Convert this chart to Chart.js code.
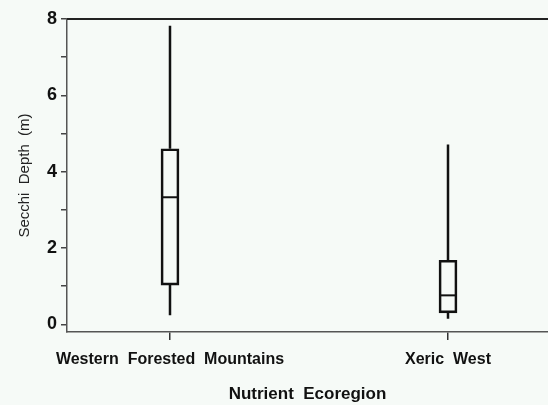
<!DOCTYPE html>
<html>
<head>
<meta charset="utf-8">
<script src="https://cdn.jsdelivr.net/npm/chart.js@4"></script>
<style>
  html, body { margin: 0; padding: 0; background: #f6faf7; }
  #wrap { width: 548px; height: 405px; }
</style>
</head>
<body>
<div id="wrap"><canvas id="c" width="548" height="405"></canvas></div>
<script>
// Box plot of Secchi depth by nutrient ecoregion
const categories = ['Western  Forested  Mountains', 'Xeric  West'];
const whiskerLow = [0.24, 0.15];
const q1 = [1.03, 0.30];
const median = [3.33, 0.76];
const q3 = [4.60, 1.68];
const whiskerHigh = [7.82, 4.71];
const yTicks = [0, 1, 2, 3, 4, 5, 6, 7, 8];

const boxData = categories.map((c, i) => ({ x: i, y: [q1[i], q3[i]] }));

// whiskers, medians and top frame line
const boxExtras = {
    id: 'boxExtras',
    afterDatasetsDraw(chart) {
        const ctx = chart.ctx;
        const xs = chart.scales.x;
        const ys = chart.scales.y;
        const area = chart.chartArea;
        ctx.save();
        ctx.strokeStyle = '#111';
        categories.forEach((c, i) => {
            const x = xs.getPixelForValue(i);
            ctx.lineWidth = 2.5;
            ctx.beginPath();
            ctx.moveTo(x, ys.getPixelForValue(q3[i]));
            ctx.lineTo(x, ys.getPixelForValue(whiskerHigh[i]));
            ctx.moveTo(x, ys.getPixelForValue(q1[i]));
            ctx.lineTo(x, ys.getPixelForValue(whiskerLow[i]));
            ctx.stroke();
            const y = ys.getPixelForValue(median[i]);
            ctx.lineWidth = 2;
            ctx.beginPath();
            ctx.moveTo(x - 9, y);
            ctx.lineTo(x + 9, y);
            ctx.stroke();
        });
        // top frame line
        ctx.strokeStyle = '#222';
        ctx.lineWidth = 2;
        ctx.beginPath();
        ctx.moveTo(area.left, area.top);
        ctx.lineTo(area.right, area.top);
        ctx.stroke();
        ctx.restore();
    }
};

new Chart(document.getElementById('c'), {
    type: 'bar',
    data: {
        datasets: [{
            data: boxData,
            backgroundColor: 'rgba(0,0,0,0)',
            borderColor: '#111',
            borderWidth: 2,
            borderSkipped: false,
            barThickness: 18
        }]
    },
    options: {
        responsive: false,
        animation: false,
        devicePixelRatio: 1,
        layout: { padding: { top: 19, right: 0, left: 0, bottom: 0 } },
        plugins: { legend: { display: false }, tooltip: { enabled: false } },
        scales: {
            x: {
                type: 'linear',
                offset: false,
                min: -0.3705,
                max: 1.3597,
                afterBuildTicks: s => { s.ticks = categories.map((c, i) => ({ value: i })); },
                afterFit: s => { s.height = 73; },
                ticks: {
                    color: '#111',
                    font: { family: 'Liberation Sans', size: 16, weight: 'bold' },
                    padding: 10,
                    maxRotation: 0,
                    autoSkip: false,
                    callback: v => categories[v]
                },
                grid: { offset: false, drawOnChartArea: false, tickLength: 8, color: '#333', lineWidth: 1.5 },
                border: { display: true, color: '#555', width: 1.5 },
                title: {
                    display: true,
                    text: 'Nutrient  Ecoregion',
                    color: '#111',
                    font: { family: 'Liberation Sans', size: 17, weight: 'bold' },
                    padding: { top: 8, bottom: 0 }
                }
            },
            y: {
                min: -0.2,
                max: 8,
                afterBuildTicks: s => { s.ticks = yTicks.map(v => ({ value: v })); },
                afterFit: s => { s.width = 67; },
                ticks: {
                    color: '#111',
                    font: { family: 'Liberation Sans', size: 18, weight: 'bold' },
                    padding: 4,
                    callback: v => (v % 2 === 0 ? v : '')
                },
                grid: { drawOnChartArea: false, tickLength: 6, color: '#444', lineWidth: 1.5 },
                border: { display: true, color: '#555', width: 1.5 },
                title: {
                    display: true,
                    text: 'Secchi  Depth  (m)',
                    color: '#222',
                    font: { family: 'Liberation Sans', size: 15 },
                    padding: { top: 16, bottom: 4 }
                }
            }
        }
    },
    plugins: [boxExtras]
});
</script>
</body>
</html>
